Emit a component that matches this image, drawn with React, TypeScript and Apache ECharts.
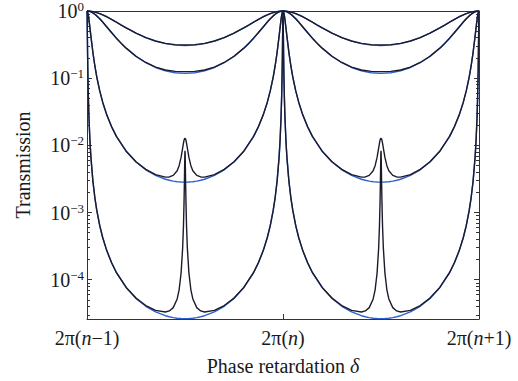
import React, { useEffect, useRef } from 'react';
import * as echarts from 'echarts';

// ---- tick labels ----
const X_TICK_LABELS: string[][] = [
  ['2π(', 'n', '−1)'],
  ['2π(', 'n', ')'],
  ['2π(', 'n', '+1)'],
];
const Y_MAJOR = [1, 0.1, 0.01, 0.001, 0.0001];
const Y_EXPONENTS = ['0', '−1', '−2', '−3', '−4'];
const Y_MINOR = [
  3e-5, 4e-5, 5e-5, 6e-5, 7e-5, 8e-5, 9e-5,
  2e-4, 3e-4, 4e-4, 5e-4, 6e-4, 7e-4, 8e-4, 9e-4,
  2e-3, 3e-3, 4e-3, 5e-3, 6e-3, 7e-3, 8e-3, 9e-3,
  2e-2, 3e-2, 4e-2, 5e-2, 6e-2, 7e-2, 8e-2, 9e-2,
  0.2, 0.3, 0.4, 0.5, 0.6, 0.7, 0.8, 0.9,
];
const PERIODS = [0, 1];

// ---- half-period samples (phase in units of 2π, 0 → 0.5), curves are symmetric & periodic ----
const HALF_COARSE = [0, 0.005, 0.01, 0.02, 0.03, 0.04, 0.05, 0.065, 0.08, 0.1, 0.125, 0.15, 0.175, 0.2, 0.25, 0.3, 0.35, 0.4, 0.45, 0.5];
const BLUE_1 = [1, 0.99944, 0.99776, 0.99109, 0.98021, 0.96542, 0.94715, 0.91428, 0.87641, 0.82121, 0.74968, 0.68031, 0.61635, 0.55937, 0.46729, 0.40124, 0.35586, 0.32655, 0.31015, 0.30488];
const BLACK_1 = [1, 0.99972, 0.99805, 0.99139, 0.98052, 0.96574, 0.94748, 0.91463, 0.87679, 0.82162, 0.75014, 0.68084, 0.61695, 0.56007, 0.46826, 0.40264, 0.35801, 0.33005, 0.31575, 0.31188];
const BLUE_2 = [1, 0.99816, 0.99268, 0.97139, 0.93795, 0.89498, 0.84545, 0.765, 0.68399, 0.58366, 0.47756, 0.39376, 0.32902, 0.27926, 0.21119, 0.1698, 0.14429, 0.12892, 0.12067, 0.11806];
const BLACK_2 = [1, 0.99844, 0.99297, 0.97169, 0.93826, 0.8953, 0.84578, 0.76535, 0.68437, 0.58407, 0.47802, 0.39429, 0.32962, 0.27996, 0.21216, 0.1712, 0.14644, 0.13242, 0.12627, 0.12506];

const HALF_FINE = [0, 0.0005, 0.001, 0.0015, 0.002, 0.003, 0.004, 0.005, 0.007, 0.01, 0.015, 0.02, 0.03, 0.04, 0.05, 0.065, 0.08, 0.1, 0.125, 0.15, 0.2, 0.25, 0.3, 0.35, 0.4, 0.42, 0.44, 0.46, 0.47, 0.48, 0.488, 0.492, 0.495, 0.497, 0.498, 0.499, 0.4995, 0.5];
const BLUE_3 = [1, 0.99913, 0.99654, 0.99224, 0.9863, 0.96968, 0.94734, 0.9201, 0.85456, 0.74223, 0.56145, 0.41879, 0.24287, 0.15316, 0.10401, 0.064619, 0.043917, 0.028891, 0.01903, 0.013596, 0.0081557, 0.0056497, 0.0043218, 0.0035657, 0.003131, 0.003019, 0.0029356, 0.0028779, 0.0028581, 0.0028441, 0.0028369, 0.0028347, 0.0028336, 0.0028332, 0.0028331, 0.0028329, 0.0028329, 0.0028329];
const BLACK_3 = [1, 0.99913, 0.99654, 0.99224, 0.9863, 0.96968, 0.94734, 0.9201, 0.85456, 0.74223, 0.56145, 0.41879, 0.24287, 0.15316, 0.10401, 0.064619, 0.043917, 0.028906, 0.019047, 0.013616, 0.008183, 0.005688, 0.004382, 0.003672, 0.003368, 0.003384, 0.003567, 0.004194, 0.00498, 0.006615, 0.009101, 0.010729, 0.011875, 0.012447, 0.012642, 0.012762, 0.012793, 0.012803];
const BLUE_4 = [1, 0.91428, 0.72725, 0.54234, 0.39997, 0.22855, 0.14285, 0.096382, 0.051616, 0.025979, 0.01172, 0.0066304, 0.0029626, 0.0016725, 0.0010742, 0.00063952, 0.00042532, 0.0002755, 0.00017966, 0.00012766, 0.000076163, 0.000052629, 0.000040205, 0.000033147, 0.000029093, 0.00002805, 0.000027273, 0.000026735, 0.000026551, 0.00002642, 0.000026353, 0.000026332, 0.000026322, 0.000026318, 0.000026317, 0.000026316, 0.000026316, 0.000026315];
const BLACK_4 = [1, 0.91428, 0.72725, 0.54234, 0.39997, 0.22855, 0.14285, 0.096382, 0.051616, 0.025979, 0.01172, 0.0066304, 0.0029626, 0.0016725, 0.0010742, 0.00063952, 0.00042532, 0.00027574, 0.00017994, 0.00012799, 0.0000766, 0.00005327, 0.00004121, 0.00003493, 0.00003309, 0.0000343, 0.00003838, 0.00005168, 0.00007079, 0.00012529, 0.00029527, 0.00060778, 0.0013677, 0.0029183, 0.0045543, 0.0068803, 0.0078903, 0.0082963];

const BLUE = '#2f5fd0';
const BLACK = '#1b1b2b';
const AXIS = '#333333';
const TEXT = '#1a1a1a';
const FONT = '"Liberation Serif", "DejaVu Serif", serif';

function buildCurve(half: number[], vals: number[]): number[][] {
  const pts: number[][] = [];
  PERIODS.forEach((p, pi) => {
    half.forEach((h, i) => {
      if (pi > 0 && i === 0) return;
      pts.push([p + h, vals[i]]);
    });
    for (let i = half.length - 2; i >= 0; i--) pts.push([p + 1 - half[i], vals[i]]);
  });
  return pts;
}

export default function App() {
  const ref = useRef<HTMLDivElement>(null);
  useEffect(() => {
    if (!ref.current) return;
    const chart = echarts.init(ref.current, undefined, { renderer: 'svg' });
    const Y_MIN = 2.6e-5;
    const Y_MAX = 1;
    const yBase = (position: string, ticks: number[], len: number, showLine: boolean) => ({
      type: 'log',
      logBase: 10,
      min: Y_MIN,
      max: Y_MAX,
      position,
      axisLine: { show: showLine, lineStyle: { color: AXIS, width: 1 } },
      axisTick: { show: true, inside: true, length: len, customValues: ticks, lineStyle: { color: AXIS, width: 1 } },
      axisLabel: { show: false },
      splitLine: { show: false },
      minorTick: { show: false },
      minorSplitLine: { show: false },
    });
    const lineSeries = (data: number[][], color: string, z: number) => ({
      type: 'line',
      data,
      showSymbol: false,
      symbol: 'none',
      smooth: false,
      clip: true,
      z,
      silent: true,
      lineStyle: { color, width: 1.4 },
    });
    const xRich = {
      r: { fontFamily: FONT, fontSize: 20, color: TEXT },
      i: { fontFamily: FONT, fontSize: 20, color: TEXT, fontStyle: 'italic' },
    };
    const option: any = {
      animation: false,
      backgroundColor: '#ffffff',
      grid: { left: 87, right: 39, top: 11, height: 308, outerBoundsMode: 'none', containLabel: false },
      xAxis: [
        {
          type: 'value',
          min: 0,
          max: 2,
          interval: 1,
          position: 'bottom',
          axisLine: { show: true, lineStyle: { color: AXIS, width: 1 } },
          axisTick: { show: true, inside: true, length: 5, lineStyle: { color: AXIS, width: 1 } },
          axisLabel: {
            margin: 9,
            formatter: (v: number) => {
              const t = X_TICK_LABELS[Math.round(v)];
              return t ? `{r|${t[0]}}{i|${t[1]}}{r|${t[2]}}` : '';
            },
            rich: xRich,
          },
          splitLine: { show: false },
          name: '{r|Phase retardation }{i|δ}',
          nameLocation: 'middle',
          nameGap: 37,
          nameTextStyle: { rich: xRich },
        },
        {
          type: 'value',
          min: 0,
          max: 2,
          interval: 1,
          position: 'top',
          axisLine: { show: true, lineStyle: { color: AXIS, width: 1 } },
          axisTick: { show: false },
          axisLabel: { show: false },
          splitLine: { show: false },
        },
      ],
      yAxis: [
        {
          ...yBase('left', Y_MAJOR, 5, true),
          axisLabel: {
            show: true,
            margin: 3,
            customValues: Y_MAJOR,
            formatter: (v: number) => {
              const idx = Y_MAJOR.findIndex((m) => Math.abs(Math.log10(m) - Math.log10(v)) < 1e-6);
              return idx >= 0 ? `{b|10}{e|${Y_EXPONENTS[idx]}}` : '';
            },
            rich: {
              b: { fontFamily: FONT, fontSize: 20, color: TEXT, lineHeight: 22 },
              e: { fontFamily: FONT, fontSize: 13, color: TEXT, lineHeight: 11, verticalAlign: 'top' },
            },
          },
          name: 'Transmission',
          nameLocation: 'middle',
          nameGap: 54,
          nameTextStyle: { fontFamily: FONT, fontSize: 20, color: TEXT },
        },
        yBase('left', Y_MINOR, 3, false),
        yBase('right', Y_MAJOR, 5, true),
        yBase('right', Y_MINOR, 3, false),
      ],
      series: [
        lineSeries(buildCurve(HALF_COARSE, BLUE_1), BLUE, 2),
        lineSeries(buildCurve(HALF_COARSE, BLUE_2), BLUE, 2),
        lineSeries(buildCurve(HALF_FINE, BLUE_3), BLUE, 2),
        lineSeries(buildCurve(HALF_FINE, BLUE_4), BLUE, 2),
        lineSeries(buildCurve(HALF_COARSE, BLACK_1), BLACK, 3),
        lineSeries(buildCurve(HALF_COARSE, BLACK_2), BLACK, 3),
        lineSeries(buildCurve(HALF_FINE, BLACK_3), BLACK, 3),
        lineSeries(buildCurve(HALF_FINE, BLACK_4), BLACK, 3),
      ],
    };
    chart.setOption(option);
    return () => chart.dispose();
  }, []);
  return (
    <div
      ref={ref}
      style={{ position: 'fixed', left: 0, top: 0, width: 518, height: 381, background: '#fff' }}
    />
  );
}
